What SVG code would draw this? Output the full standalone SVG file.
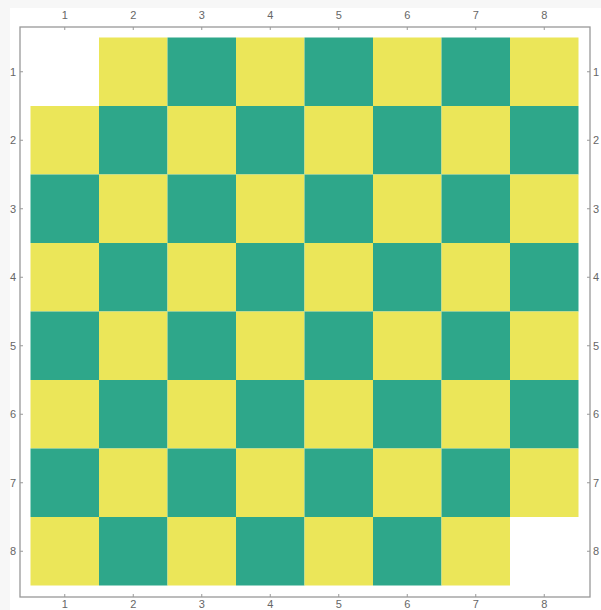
<svg xmlns="http://www.w3.org/2000/svg" width="601" height="610" viewBox="0 0 601 610">
<style>
.y{fill:#EBE659}.g{fill:#2EA78A}
.t{font-family:"Liberation Sans",Arial,sans-serif;font-size:11px;fill:#666}
.tk{stroke:#999;stroke-width:1}
</style>
<rect width="601" height="610" fill="#F7F7F7"/>
<rect x="10" y="8" width="591" height="602" fill="#FFFFFF"/>
<g id="cells">
<rect class="y" x="99" y="37.5" width="68.5" height="68.5"/><rect class="g" x="167.5" y="37.5" width="68.5" height="68.5"/><rect class="y" x="236" y="37.5" width="68.5" height="68.5"/><rect class="g" x="304.5" y="37.5" width="68.5" height="68.5"/><rect class="y" x="373" y="37.5" width="68.5" height="68.5"/><rect class="g" x="441.5" y="37.5" width="68.5" height="68.5"/><rect class="y" x="510" y="37.5" width="68.5" height="68.5"/>
<rect class="y" x="30.5" y="106" width="68.5" height="68.5"/><rect class="g" x="99" y="106" width="68.5" height="68.5"/><rect class="y" x="167.5" y="106" width="68.5" height="68.5"/><rect class="g" x="236" y="106" width="68.5" height="68.5"/><rect class="y" x="304.5" y="106" width="68.5" height="68.5"/><rect class="g" x="373" y="106" width="68.5" height="68.5"/><rect class="y" x="441.5" y="106" width="68.5" height="68.5"/><rect class="g" x="510" y="106" width="68.5" height="68.5"/>
<rect class="g" x="30.5" y="174.5" width="68.5" height="68.5"/><rect class="y" x="99" y="174.5" width="68.5" height="68.5"/><rect class="g" x="167.5" y="174.5" width="68.5" height="68.5"/><rect class="y" x="236" y="174.5" width="68.5" height="68.5"/><rect class="g" x="304.5" y="174.5" width="68.5" height="68.5"/><rect class="y" x="373" y="174.5" width="68.5" height="68.5"/><rect class="g" x="441.5" y="174.5" width="68.5" height="68.5"/><rect class="y" x="510" y="174.5" width="68.5" height="68.5"/>
<rect class="y" x="30.5" y="243" width="68.5" height="68.5"/><rect class="g" x="99" y="243" width="68.5" height="68.5"/><rect class="y" x="167.5" y="243" width="68.5" height="68.5"/><rect class="g" x="236" y="243" width="68.5" height="68.5"/><rect class="y" x="304.5" y="243" width="68.5" height="68.5"/><rect class="g" x="373" y="243" width="68.5" height="68.5"/><rect class="y" x="441.5" y="243" width="68.5" height="68.5"/><rect class="g" x="510" y="243" width="68.5" height="68.5"/>
<rect class="g" x="30.5" y="311.5" width="68.5" height="68.5"/><rect class="y" x="99" y="311.5" width="68.5" height="68.5"/><rect class="g" x="167.5" y="311.5" width="68.5" height="68.5"/><rect class="y" x="236" y="311.5" width="68.5" height="68.5"/><rect class="g" x="304.5" y="311.5" width="68.5" height="68.5"/><rect class="y" x="373" y="311.5" width="68.5" height="68.5"/><rect class="g" x="441.5" y="311.5" width="68.5" height="68.5"/><rect class="y" x="510" y="311.5" width="68.5" height="68.5"/>
<rect class="y" x="30.5" y="380" width="68.5" height="68.5"/><rect class="g" x="99" y="380" width="68.5" height="68.5"/><rect class="y" x="167.5" y="380" width="68.5" height="68.5"/><rect class="g" x="236" y="380" width="68.5" height="68.5"/><rect class="y" x="304.5" y="380" width="68.5" height="68.5"/><rect class="g" x="373" y="380" width="68.5" height="68.5"/><rect class="y" x="441.5" y="380" width="68.5" height="68.5"/><rect class="g" x="510" y="380" width="68.5" height="68.5"/>
<rect class="g" x="30.5" y="448.5" width="68.5" height="68.5"/><rect class="y" x="99" y="448.5" width="68.5" height="68.5"/><rect class="g" x="167.5" y="448.5" width="68.5" height="68.5"/><rect class="y" x="236" y="448.5" width="68.5" height="68.5"/><rect class="g" x="304.5" y="448.5" width="68.5" height="68.5"/><rect class="y" x="373" y="448.5" width="68.5" height="68.5"/><rect class="g" x="441.5" y="448.5" width="68.5" height="68.5"/><rect class="y" x="510" y="448.5" width="68.5" height="68.5"/>
<rect class="y" x="30.5" y="517" width="68.5" height="68.5"/><rect class="g" x="99" y="517" width="68.5" height="68.5"/><rect class="y" x="167.5" y="517" width="68.5" height="68.5"/><rect class="g" x="236" y="517" width="68.5" height="68.5"/><rect class="y" x="304.5" y="517" width="68.5" height="68.5"/><rect class="g" x="373" y="517" width="68.5" height="68.5"/><rect class="y" x="441.5" y="517" width="68.5" height="68.5"/>
</g>
<g id="frame">
<rect x="20" y="27" width="570" height="570" fill="none" stroke="#999" stroke-width="1.3"/>
<path class="tk" d="M64.75 27v3M133.25 27v3M201.75 27v3M270.25 27v3M338.75 27v3M407.25 27v3M475.75 27v3M544.25 27v3M64.75 597v-3M133.25 597v-3M201.75 597v-3M270.25 597v-3M338.75 597v-3M407.25 597v-3M475.75 597v-3M544.25 597v-3M20 71.75h3M20 140.25h3M20 208.75h3M20 277.25h3M20 345.75h3M20 414.25h3M20 482.75h3M20 551.25h3M590 71.75h-3M590 140.25h-3M590 208.75h-3M590 277.25h-3M590 345.75h-3M590 414.25h-3M590 482.75h-3M590 551.25h-3"/>
</g>
<g id="labels" class="t" text-anchor="middle">
<text x="64.75" y="19">1</text><text x="133.25" y="19">2</text><text x="201.75" y="19">3</text><text x="270.25" y="19">4</text><text x="338.75" y="19">5</text><text x="407.25" y="19">6</text><text x="475.75" y="19">7</text><text x="544.25" y="19">8</text>
<text x="64.75" y="607.5">1</text><text x="133.25" y="607.5">2</text><text x="201.75" y="607.5">3</text><text x="270.25" y="607.5">4</text><text x="338.75" y="607.5">5</text><text x="407.25" y="607.5">6</text><text x="475.75" y="607.5">7</text><text x="544.25" y="607.5">8</text>
<text x="13" y="75.5">1</text><text x="13" y="144">2</text><text x="13" y="212.5">3</text><text x="13" y="281">4</text><text x="13" y="349.5">5</text><text x="13" y="418">6</text><text x="13" y="486.5">7</text><text x="13" y="555">8</text>
<text x="596" y="75.5">1</text><text x="596" y="144">2</text><text x="596" y="212.5">3</text><text x="596" y="281">4</text><text x="596" y="349.5">5</text><text x="596" y="418">6</text><text x="596" y="486.5">7</text><text x="596" y="555">8</text>
</g>
</svg>
